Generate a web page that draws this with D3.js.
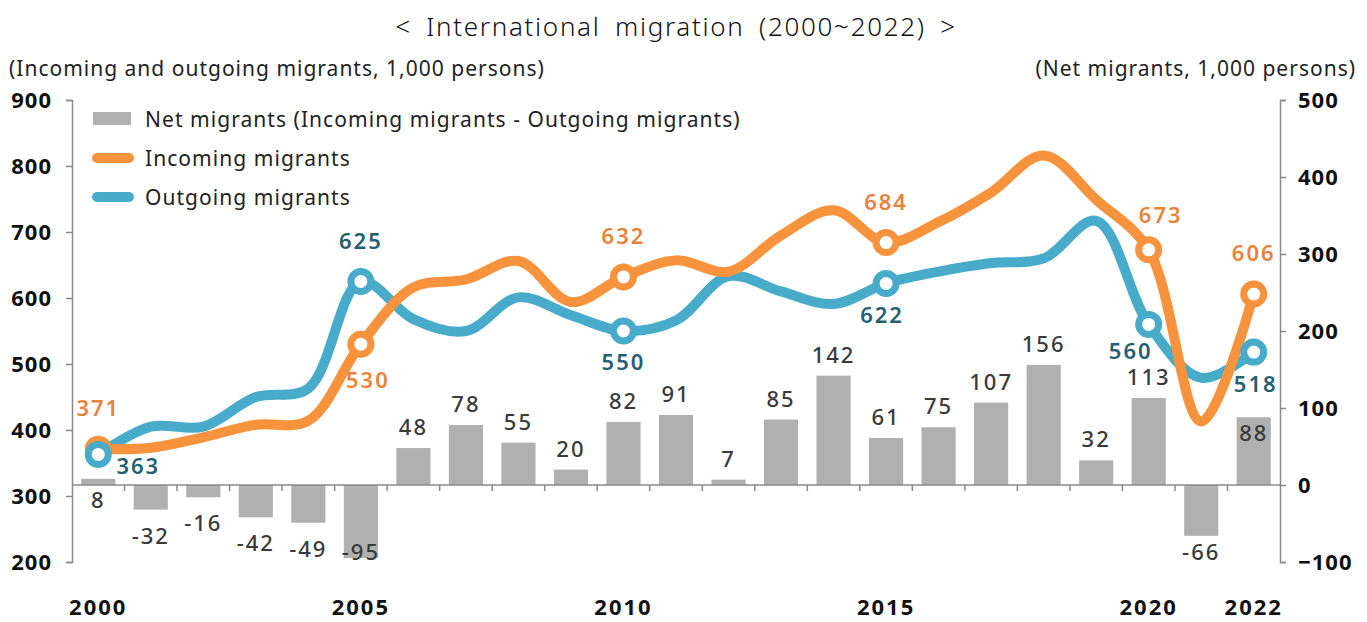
<!DOCTYPE html>
<html lang="en">
<head>
    <meta charset="UTF-8">
    <title>International migration</title>
    <script src="https://cdn.jsdelivr.net/npm/d3@7/dist/d3.min.js"></script>
    <style>
        body { margin: 0; background: #fff; }
        text { font-family: "Noto Sans", sans-serif; }
    </style>
</head>
<body>
    <div id="grafico"></div>
    <script type="text/javascript">

        // data (1,000 persons)
        var years = [2000, 2001, 2002, 2003, 2004, 2005, 2006, 2007, 2008, 2009, 2010,
                     2011, 2012, 2013, 2014, 2015, 2016, 2017, 2018, 2019, 2020, 2021, 2022];
        var incoming = [371, 373, 389, 408, 414, 530, 616, 628, 656, 594, 632,
                        657, 640, 695, 733, 684, 715, 760, 816, 749, 673, 413, 606];
        var outgoing = [363, 405, 405, 450, 463, 625, 568, 550, 601, 574, 550,
                        566, 633, 610, 591, 622, 640, 653, 660, 717, 560, 479, 518];
        var net = [8, -32, -16, -42, -49, -95, 48, 78, 55, 20, 82,
                   91, 7, 85, 142, 61, 75, 107, 156, 32, 113, -66, 88];
        var leftTicks = [200, 300, 400, 500, 600, 700, 800, 900];
        var rightTicks = [-100, 0, 100, 200, 300, 400, 500];
        var yearLabels = [2000, 2005, 2010, 2015, 2020, 2022];
        var markedYears = [2000, 2005, 2010, 2015, 2020, 2022];

        // label placement around the markers: [dx, dy]
        var inLabelPos = { 2000: [0, -39], 2005: [7, 38], 2010: [0, -39], 2015: [0, -39], 2020: [12, -33], 2022: [0, -39] };
        var outLabelPos = { 2000: [40, 14], 2005: [0, -38], 2010: [0, 33], 2015: [-4, 34], 2020: [-18, 29], 2022: [2, 34] };
        var netLabelMode = { 2000: "below", 2022: "inside" };

        var w = 1367, h = 622;
        var xLeft = 72, xRight = 1280, yTop = 100, yBottom = 562;

        var orange = "#f7923d", blue = "#48abc9";
        var orangeTxt = "#e8843a", blueTxt = "#24606f";

        var svg = d3.select("#grafico").append("svg")
            .attr("width", w).attr("height", h);

        var x = d3.scaleBand().domain(years).range([xLeft, xRight]).paddingInner(0.35).paddingOuter(0.175);
        var xc = function(d) { return x(d) + x.bandwidth() / 2; };
        var yL = d3.scaleLinear().domain([200, 900]).range([yBottom, yTop]);
        var yR = d3.scaleLinear().domain([-100, 500]).range([yBottom, yTop]);

        // title + unit labels
        svg.append("text").attr("x", 676).attr("y", 36).attr("text-anchor", "middle")
            .attr("font-family", "Roboto").attr("font-weight", 300)
            .attr("font-size", "26px").attr("letter-spacing", "1.7px").attr("word-spacing", "6px")
            .attr("fill", "#111").text("< International migration (2000~2022) >");
        svg.append("text").attr("x", 9).attr("y", 76).attr("font-size", "21px")
            .attr("letter-spacing", "1px").attr("fill", "#222")
            .text("(Incoming and outgoing migrants, 1,000 persons)");
        svg.append("text").attr("x", 1356).attr("y", 76).attr("text-anchor", "end")
            .attr("font-size", "21px").attr("letter-spacing", "1px").attr("fill", "#222")
            .text("(Net migrants, 1,000 persons)");

        // axes
        var axL = svg.append("g").attr("transform", "translate(" + xLeft + ",0)")
            .call(d3.axisLeft(yL).tickValues(leftTicks).tickSize(6).tickPadding(14));
        var axR = svg.append("g").attr("transform", "translate(" + xRight + ",0)")
            .call(d3.axisRight(yR).tickValues(rightTicks).tickSize(6).tickPadding(12));
        [axL, axR].forEach(function(ax) {
            ax.select(".domain").attr("stroke", "#8a8a8a").attr("stroke-width", 1.5);
            ax.selectAll(".tick line").attr("stroke", "#8a8a8a").attr("stroke-width", 1.5);
            ax.selectAll(".tick text").attr("font-size", "22px").attr("font-weight", "bold")
                .attr("letter-spacing", "1px").attr("fill", "#111").attr("font-family", "Noto Sans");
        });

        // net bars
        svg.selectAll("rect.bar").data(net).enter().append("rect")
            .attr("class", "bar")
            .attr("x", function(d, i) { return x(years[i]); })
            .attr("y", function(d) { return d >= 0 ? yR(d) : yR(0); })
            .attr("width", x.bandwidth())
            .attr("height", function(d) { return Math.abs(yR(d) - yR(0)); })
            .attr("fill", "#b0b0b0");

        // category axis on net = 0
        var axX = svg.append("g").attr("transform", "translate(0," + yR(0) + ")");
        axX.append("line").attr("x1", xLeft).attr("x2", xRight).attr("stroke", "#8a8a8a").attr("stroke-width", 1.5);
        axX.selectAll("line.tk").data(d3.range(1, years.length)).enter().append("line")
            .attr("class", "tk")
            .attr("x1", function(i) { return x(years[i]) - x.step() * x.paddingInner() / 2; })
            .attr("x2", function(i) { return x(years[i]) - x.step() * x.paddingInner() / 2; })
            .attr("y1", 0).attr("y2", 6).attr("stroke", "#8a8a8a").attr("stroke-width", 1.5);

        svg.selectAll("text.year").data(yearLabels).enter().append("text")
            .attr("class", "year")
            .attr("x", function(d) { return xc(d); })
            .attr("y", 615).attr("text-anchor", "middle")
            .attr("font-size", "22px").attr("font-weight", "bold").attr("letter-spacing", "2px")
            .attr("fill", "#111")
            .text(function(d) { return d; });

        // net labels
        svg.selectAll("text.net").data(net).enter().append("text")
            .attr("class", "net")
            .attr("x", function(d, i) { return xc(years[i]); })
            .attr("y", function(d, i) {
                var mode = netLabelMode[years[i]];
                if (mode === "below") return yR(0) + 23;
                if (mode === "inside") return yR(d) + 24;
                if (d >= 0) return yR(d) - 13;
                return Math.min(yR(d) + 34, 560);
            })
            .attr("text-anchor", "middle").attr("font-size", "22px").attr("font-weight", 500)
            .attr("fill", "#3a3a3a").attr("letter-spacing", "2px")
            .text(function(d) { return d; });

        // lines
        var line = function(vals) {
            return d3.line()
                .x(function(d, i) { return xc(years[i]); })
                .y(function(d) { return yL(d); })
                .curve(d3.curveCatmullRom.alpha(0.5))(vals);
        };
        svg.append("path").attr("d", line(outgoing)).attr("fill", "none")
            .attr("stroke", blue).attr("stroke-width", 10).attr("stroke-linejoin", "round");
        svg.append("path").attr("d", line(incoming)).attr("fill", "none")
            .attr("stroke", orange).attr("stroke-width", 10).attr("stroke-linejoin", "round");

        var series = [
            { vals: incoming, col: orange, txt: orangeTxt, pos: inLabelPos },
            { vals: outgoing, col: blue, txt: blueTxt, pos: outLabelPos }
        ];
        series.forEach(function(s) {
            svg.selectAll(null).data(markedYears).enter().append("circle")
                .attr("cx", function(d) { return xc(d); })
                .attr("cy", function(d) { return yL(s.vals[years.indexOf(d)]); })
                .attr("r", 10).attr("fill", "#fff")
                .attr("stroke", s.col).attr("stroke-width", 7);
        });
        series.forEach(function(s) {
            svg.selectAll(null).data(markedYears).enter().append("text")
                .attr("x", function(d) { return xc(d) + s.pos[d][0]; })
                .attr("y", function(d) { return yL(s.vals[years.indexOf(d)]) + s.pos[d][1]; })
                .attr("text-anchor", "middle").attr("dominant-baseline", "middle")
                .attr("font-size", "22px").attr("font-weight", 600).attr("letter-spacing", "2px")
                .attr("fill", s.txt)
                .text(function(d) { return s.vals[years.indexOf(d)]; });
        });

        // legend
        var lg = svg.append("g");
        lg.append("rect").attr("x", 93).attr("y", 112).attr("width", 38).attr("height", 13).attr("fill", "#b0b0b0");
        lg.append("line").attr("x1", 97).attr("x2", 129).attr("y1", 158).attr("y2", 158)
            .attr("stroke", orange).attr("stroke-width", 10).attr("stroke-linecap", "round");
        lg.append("line").attr("x1", 97).attr("x2", 129).attr("y1", 197).attr("y2", 197)
            .attr("stroke", blue).attr("stroke-width", 10).attr("stroke-linecap", "round");
        [["Net migrants (Incoming migrants - Outgoing migrants)", 127],
         ["Incoming migrants", 166], ["Outgoing migrants", 205]].forEach(function(t) {
            lg.append("text").attr("x", 145).attr("y", t[1]).attr("font-size", "21px")
                .attr("letter-spacing", "1.05px").attr("fill", "#222").text(t[0]);
        });

</script>
</body>
</html>
